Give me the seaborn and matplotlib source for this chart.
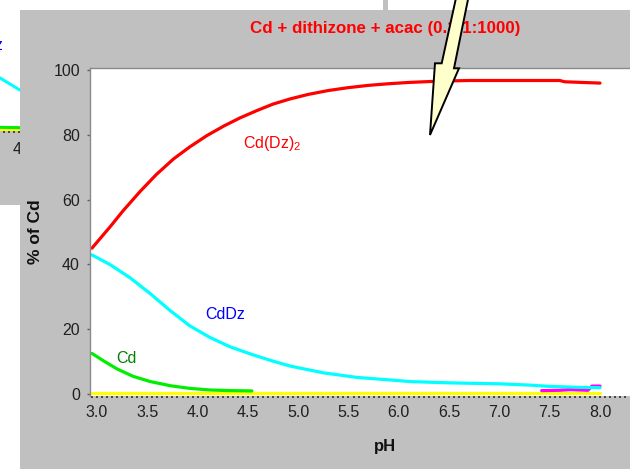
import matplotlib
matplotlib.use("Agg")
import matplotlib.pyplot as plt
from matplotlib.patches import Rectangle, Polygon
from matplotlib.ticker import MultipleLocator
import seaborn as sns
import pandas as pd

# ---------------- data ----------------
ph_cddz2 = [2.95, 3.13, 3.26, 3.43, 3.59, 3.76, 3.92, 4.09, 4.26, 4.42, 4.59,
            4.75, 4.92, 5.1, 5.3, 5.5, 5.7, 5.9, 6.1, 6.4, 6.7, 7.0, 7.6,
            7.65, 8.0]
pct_cddz2 = [45, 51.6, 56.6, 62.6, 67.8, 72.6, 76.3, 79.8, 82.8, 85.3, 87.6,
             89.6, 91.2, 92.6, 93.8, 94.7, 95.4, 95.9, 96.3, 96.7, 96.9, 96.9,
             96.9, 96.5, 96.1]

ph_cddz = [2.95, 3.13, 3.33, 3.53, 3.73, 3.92, 4.12, 4.32, 4.52, 4.72, 4.92,
           5.25, 5.58, 5.91, 6.11, 6.5, 7.0, 7.3, 7.5, 7.8, 8.0]
pct_cddz = [42.9, 39.9, 35.8, 30.9, 25.6, 21.0, 17.4, 14.5, 12.3, 10.3, 8.5,
            6.4, 5.0, 4.2, 3.7, 3.3, 3.0, 2.6, 2.2, 1.9, 1.8]

ph_cd = [2.95, 3.06, 3.20, 3.36, 3.53, 3.73, 3.92, 4.12, 4.32, 4.54]
pct_cd = [12.4, 10.2, 7.6, 5.3, 3.7, 2.4, 1.6, 1.1, 0.9, 0.8]

ph_yellow = [2.95, 8.0]
pct_yellow = [0.2, 0.2]

ph_magenta = [7.42, 7.6, 7.7, 7.88, 7.92, 8.0]
pct_magenta = [0.9, 1.0, 1.2, 1.0, 2.3, 2.3]

# fragment of the chart in the window behind
back_ph_cddz = [3.70, 3.76, 3.96, 4.10]
back_pct_cddz = [17.5, 16.4, 12.6, 10.5]
back_ph_flat = [3.70, 4.10]
back_pct_cd = [1.1, 0.9]
back_pct_yellow = [0.4, 0.4]

species_order = ["yellow", "magenta", "Cd", "CdDz", "Cd(Dz)2"]
palette = {"yellow": "#FFFF00", "magenta": "#FF00FF", "Cd": "#00EE00",
           "CdDz": "#00FFFF", "Cd(Dz)2": "#FF0000"}

title_text = "Cd + dithizone + acac (0.1:1:1000)"
x_ticks = [3.0, 3.5, 4.0, 4.5, 5.0, 5.5, 6.0, 6.5, 7.0, 7.5, 8.0]
y_ticks = [0, 20, 40, 60, 80, 100]

df = pd.concat([
    pd.DataFrame({"pH": ph_yellow, "pct": pct_yellow, "species": "yellow"}),
    pd.DataFrame({"pH": ph_magenta, "pct": pct_magenta, "species": "magenta"}),
    pd.DataFrame({"pH": ph_cd, "pct": pct_cd, "species": "Cd"}),
    pd.DataFrame({"pH": ph_cddz, "pct": pct_cddz, "species": "CdDz"}),
    pd.DataFrame({"pH": ph_cddz2, "pct": pct_cddz2, "species": "Cd(Dz)2"}),
], ignore_index=True)

df_back = pd.concat([
    pd.DataFrame({"pH": back_ph_flat, "pct": back_pct_yellow, "species": "yellow"}),
    pd.DataFrame({"pH": back_ph_flat, "pct": back_pct_cd, "species": "Cd"}),
    pd.DataFrame({"pH": back_ph_cddz, "pct": back_pct_cddz, "species": "CdDz"}),
], ignore_index=True)

# ---------------- style ----------------
sns.set_theme(style="white")
plt.rcParams["font.family"] = ["Liberation Sans", "DejaVu Sans"]
plt.rcParams["mathtext.default"] = "regular"

W, H = 630, 469
GRAY = "#C0C0C0"
TICK_FS = 11.5
LAB_FS = 11.5


def rect(l, t, r, b):
    return [l / W, 1 - b / H, (r - l) / W, (b - t) / H]


fig = plt.figure(figsize=(W / 100, H / 100), dpi=100)
fig.patch.set_facecolor("white")

# layer 0: desktop pieces
bg = fig.add_axes([0, 0, 1, 1], zorder=0)
bg.set_xlim(0, W)
bg.set_ylim(H, 0)
bg.axis("off")
bg.add_patch(Rectangle((0, 131), 100, 74, color=GRAY, lw=0))
bg.add_patch(Rectangle((383, 0), 5, 14, color=GRAY, lw=0))

# layer 1: window behind (only a sliver visible)
axb = fig.add_axes(rect(-10, 0, 60, 131), zorder=1)
axb.set_facecolor("white")
sns.lineplot(data=df_back, x="pH", y="pct", hue="species", palette=palette,
             hue_order=["yellow", "Cd", "CdDz"], linewidth=2.2, legend=False,
             ax=axb, estimator=None, sort=False)
axb.set_xlim(4.0 - 34 / 100.6, 4.0 + 36 / 100.6)
axb.set_ylim(-0.06, 40.5)
axb.set_xlabel("")
axb.set_ylabel("")
for s in axb.spines.values():
    s.set_visible(False)
axb.set_xticks([4.0])
axb.set_xticklabels(["4.0"])
axb.xaxis.set_minor_locator(MultipleLocator(0.05))
axb.set_yticks([])
axb.tick_params(axis="x", which="both", bottom=True, direction="out",
                length=1.6, width=1.2, color="#303030", labelsize=TICK_FS,
                labelcolor="#202020", pad=6)
axb.text(3.795, 25.0, "CdDz", color="#0000FF", fontsize=LAB_FS, ha="right",
         va="baseline")

# layer 2: main window frame
mid = fig.add_axes([0, 0, 1, 1], zorder=2)
mid.set_xlim(0, W)
mid.set_ylim(H, 0)
mid.axis("off")
mid.patch.set_alpha(0)
mid.add_patch(Rectangle((20, 10), 700, 500, color=GRAY, lw=0))

# layer 3: main chart
ax = fig.add_axes(rect(90, 68, 630, 396), zorder=3)
ax.set_facecolor("white")
sns.lineplot(data=df, x="pH", y="pct", hue="species", palette=palette,
             hue_order=species_order, linewidth=2.3, legend=False, ax=ax,
             estimator=None, sort=False)
ax.set_xlim(3.0 - 7 / 100.6, 8.0 + 30 / 100.6)
ax.set_ylim(-0.77, 100.77)
ax.set_xticks(x_ticks)
ax.set_xticklabels([f"{v:.1f}" for v in x_ticks])
ax.xaxis.set_minor_locator(MultipleLocator(0.05))
ax.set_yticks(y_ticks)
ax.set_yticklabels([str(v) for v in y_ticks])
ax.tick_params(axis="x", which="both", bottom=True, direction="out",
               length=1.6, width=1.2, color="#303030", labelsize=TICK_FS,
               labelcolor="#202020", pad=5)
ax.tick_params(axis="y", which="major", left=True, direction="out",
               length=2.2, width=1, color="#606060", labelsize=TICK_FS,
               labelcolor="#202020", pad=5)
for side in ("right", "bottom"):
    ax.spines[side].set_visible(False)
for side in ("left", "top"):
    ax.spines[side].set_color("#8a8a8a")
    ax.spines[side].set_linewidth(1)

ax.set_xlabel("pH", fontsize=12, fontweight="bold", color="#101010")
ax.xaxis.set_label_coords((385 - 90) / 540, -0.131)
ax.xaxis.label.set_va("top")
ax.set_ylabel("% of Cd", fontsize=12.5, fontweight="bold", color="#101010")
ax.yaxis.set_label_coords((35 - 90) / 540, 0.5)
ax.yaxis.label.set_va("center")

ax.text(4.45, 76.0, "Cd(Dz)$_2$", color="#FF0000", fontsize=LAB_FS,
        ha="left", va="baseline")
ax.text(4.272, 23.2, "CdDz", color="#0000FF", fontsize=LAB_FS, ha="center",
        va="baseline")
ax.text(3.288, 9.3, "Cd", color="#008000", fontsize=LAB_FS, ha="center",
        va="baseline")

# layer 4: title and pointer arrow
top = fig.add_axes([0, 0, 1, 1], zorder=4)
top.set_xlim(0, W)
top.set_ylim(H, 0)
top.axis("off")
top.patch.set_alpha(0)
top.text(385, 28, title_text, ha="center", va="center", color="#FF0000",
         fontsize=12.2, fontweight="bold", zorder=1)
top.add_patch(Polygon([(456, -2), (441.7, 63.3), (435, 63.3), (430, 135),
                       (459, 68.3), (454, 68.3), (468.3, -2)], closed=True,
                      facecolor="#FFFFCC", edgecolor="black", lw=1.4,
                      zorder=2, joinstyle="miter"))

fig.savefig("out.png", dpi=100)
